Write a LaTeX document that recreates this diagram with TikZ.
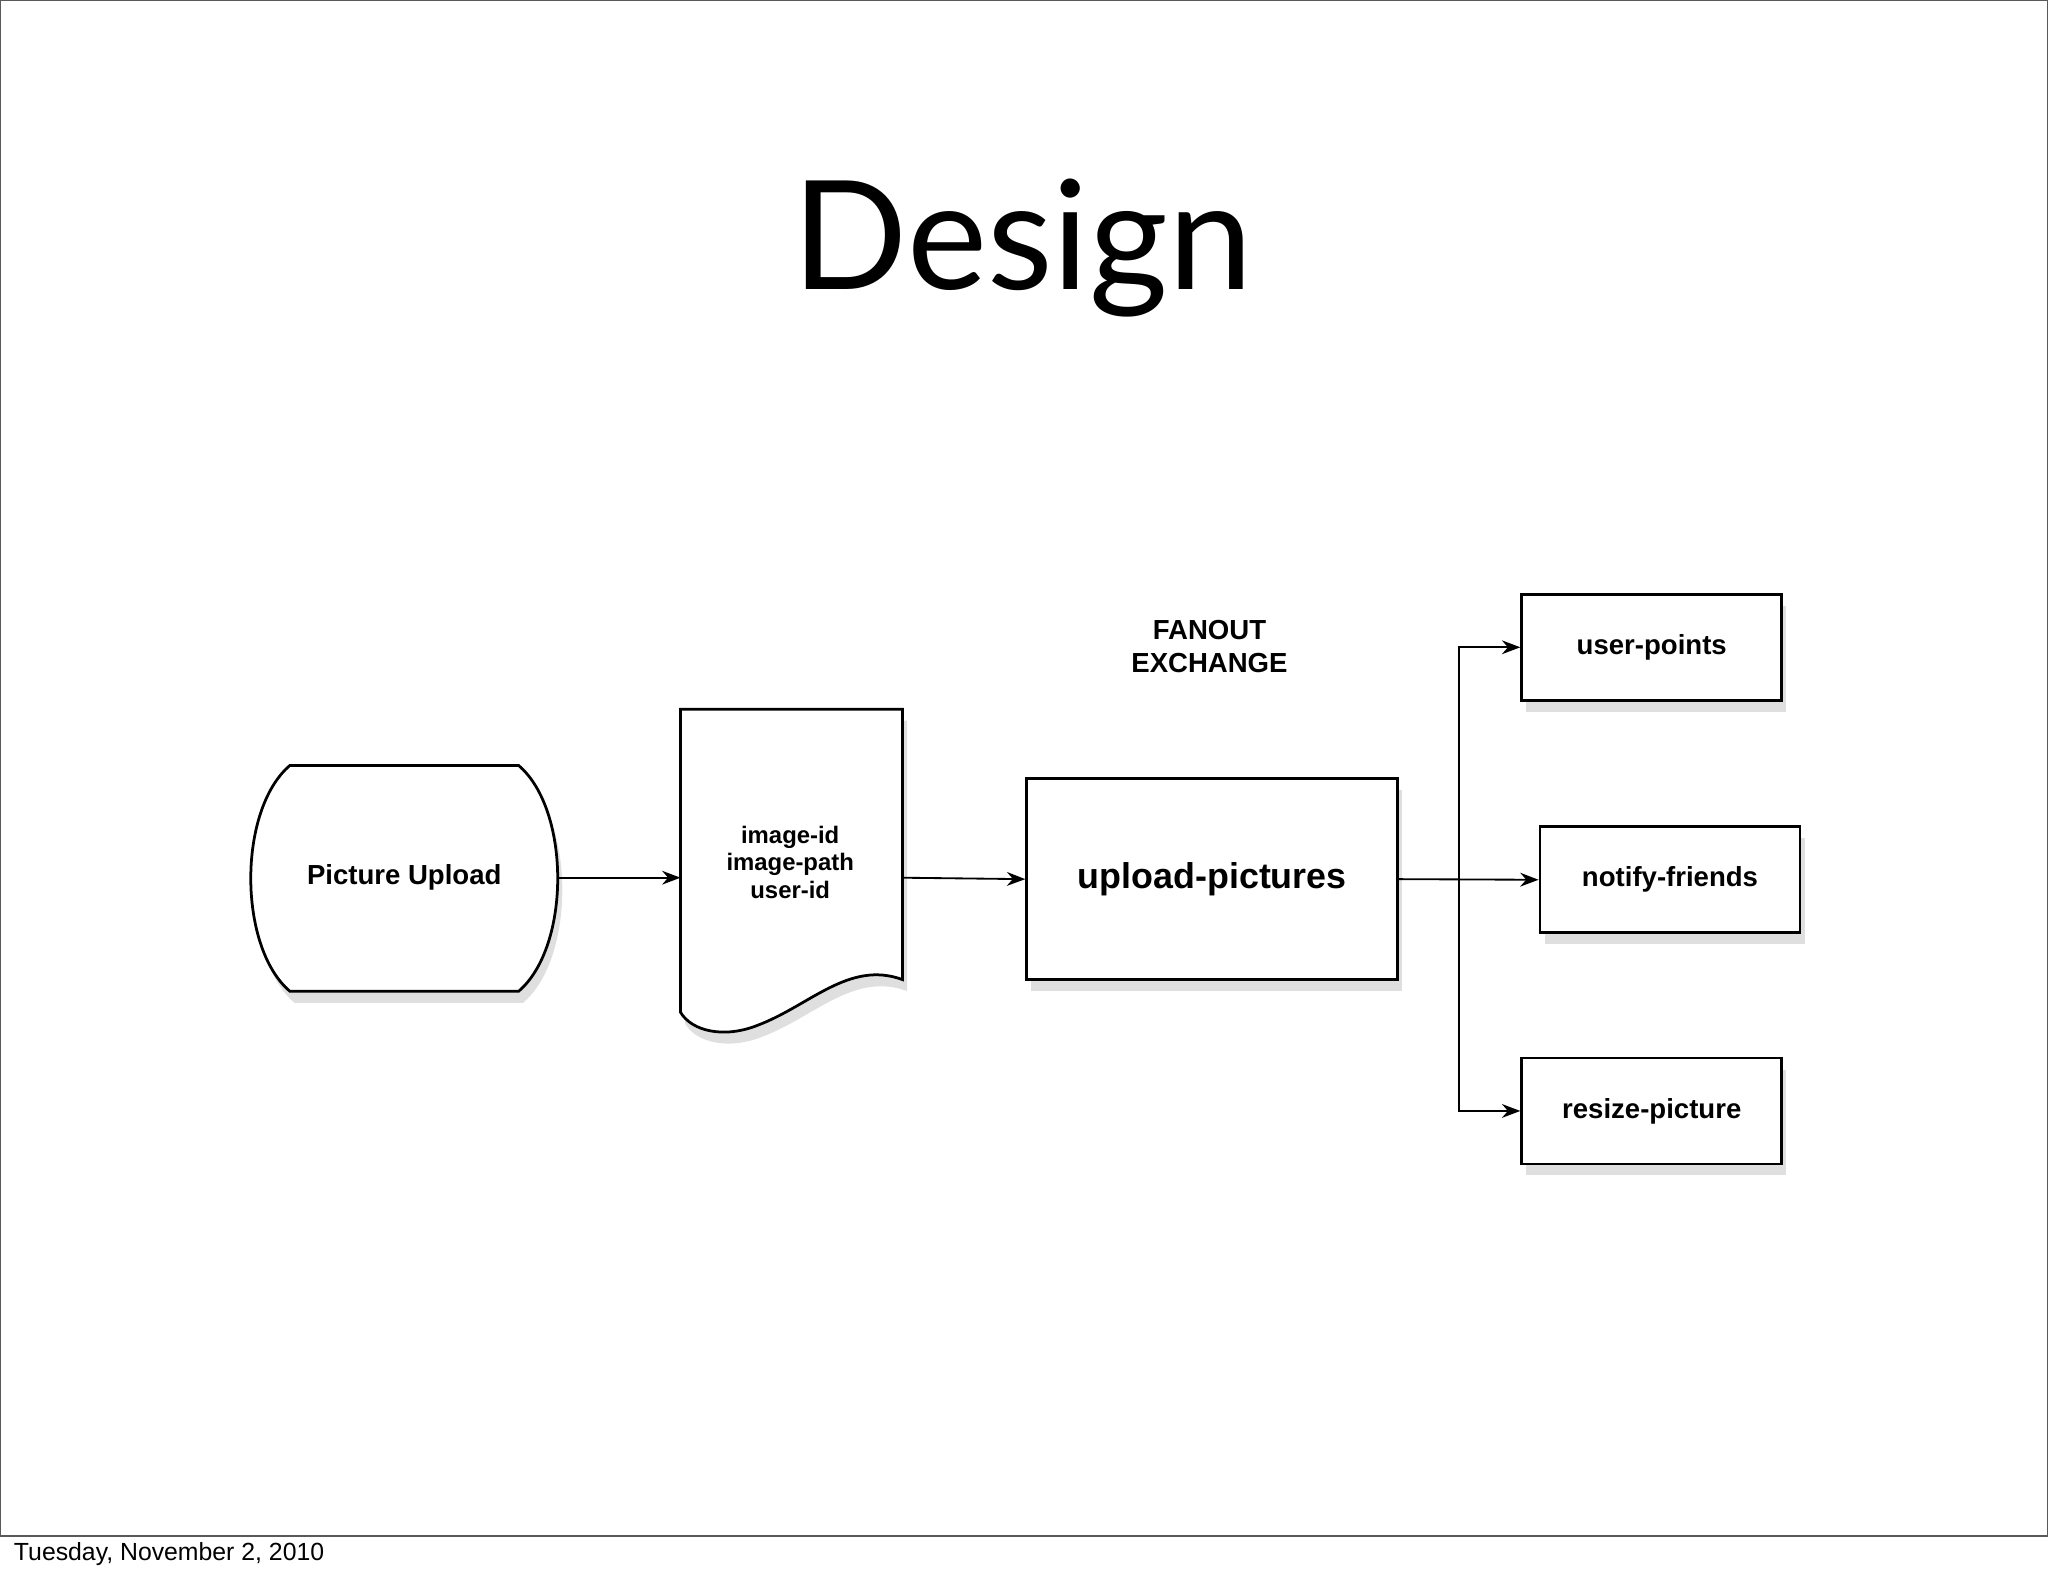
\documentclass[tikz,border=0pt]{standalone}
\usepackage{fontspec}
\setmainfont{Liberation Sans}
\newfontfamily\titlefont{Lato}
\usetikzlibrary{shadows,arrows.meta}
\begin{document}
\begin{tikzpicture}[x=0.01cm,y=-0.01cm,
  shp/.style={draw=black,line width=0.6pt,fill=white,drop shadow={opacity=0.25,shadow xshift=1pt,shadow yshift=-2.5pt}},
  lbl/.style={font=\bfseries\fontsize{6pt}{7.2pt}\selectfont,align=center},
  conn/.style={line width=0.4pt,-{Stealth[length=4pt,width=3pt]}}]
\useasboundingbox (0,0) rectangle (1568,1206);
\draw[line width=0.4pt,gray!70!black] (0,0) rectangle (1568,1176);
\node[font=\titlefont\fontsize{33pt}{38pt}\selectfont] (title) at (783,190) {Design};
% Picture Upload
\draw[shp] (222,586) -- (397,586) .. controls (437,620) and (437,725) .. (397,759) -- (222,759) .. controls (182,725) and (182,620) .. (222,586) -- cycle;
\node[lbl] (pu) at (309.5,672) {Picture Upload};
\coordinate (puR) at (427,672);
% document
\draw[shp] (521,543) -- (691,543) -- (691,750) .. controls (650,735) and (620,770) .. (580,785) .. controls (555,795) and (530,790) .. (521,775) -- cycle;
\node[lbl,font=\bfseries\fontsize{5.2pt}{6pt}\selectfont] (doc) at (605,660) {image-id\\image-path\\user-id};
\coordinate (docL) at (521,672);
\coordinate (docR) at (691,672);
% exchange
\node[shp,minimum width=2.84cm,minimum height=1.54cm,anchor=north west,inner sep=0pt] (ex) at (785,595) {};
\node[lbl,font=\bfseries\fontsize{7.8pt}{9pt}\selectfont] at (ex.center) {upload-pictures};
\node[lbl] (fan) at (926,495) {FANOUT\\EXCHANGE};
% queues
\node[shp,minimum width=1.99cm,minimum height=0.81cm,anchor=north west,inner sep=0pt] (up) at (1164,454) {};
\node[lbl] at (up.center) {user-points};
\node[shp,minimum width=1.99cm,minimum height=0.81cm,anchor=north west,inner sep=0pt] (nf) at (1178,632) {};
\node[lbl] at (nf.center) {notify-friends};
\node[shp,minimum width=1.99cm,minimum height=0.81cm,anchor=north west,inner sep=0pt] (rp) at (1164,809) {};
\node[lbl] at (rp.center) {resize-picture};
% connectors
\draw[conn] (puR) -- (docL);
\draw[conn] (docR) -- (ex.west);
\draw[conn] (ex.east) -- (nf.west);
\coordinate (br) at (1117,672);
\draw[conn] (br) |- (up.west);
\draw[conn] (br) |- (rp.west);
\node[anchor=west,font=\fontsize{5.4pt}{6pt}\selectfont,inner sep=0pt] (foot) at (10,1190) {Tuesday, November 2, 2010};
\end{tikzpicture}
\end{document}
